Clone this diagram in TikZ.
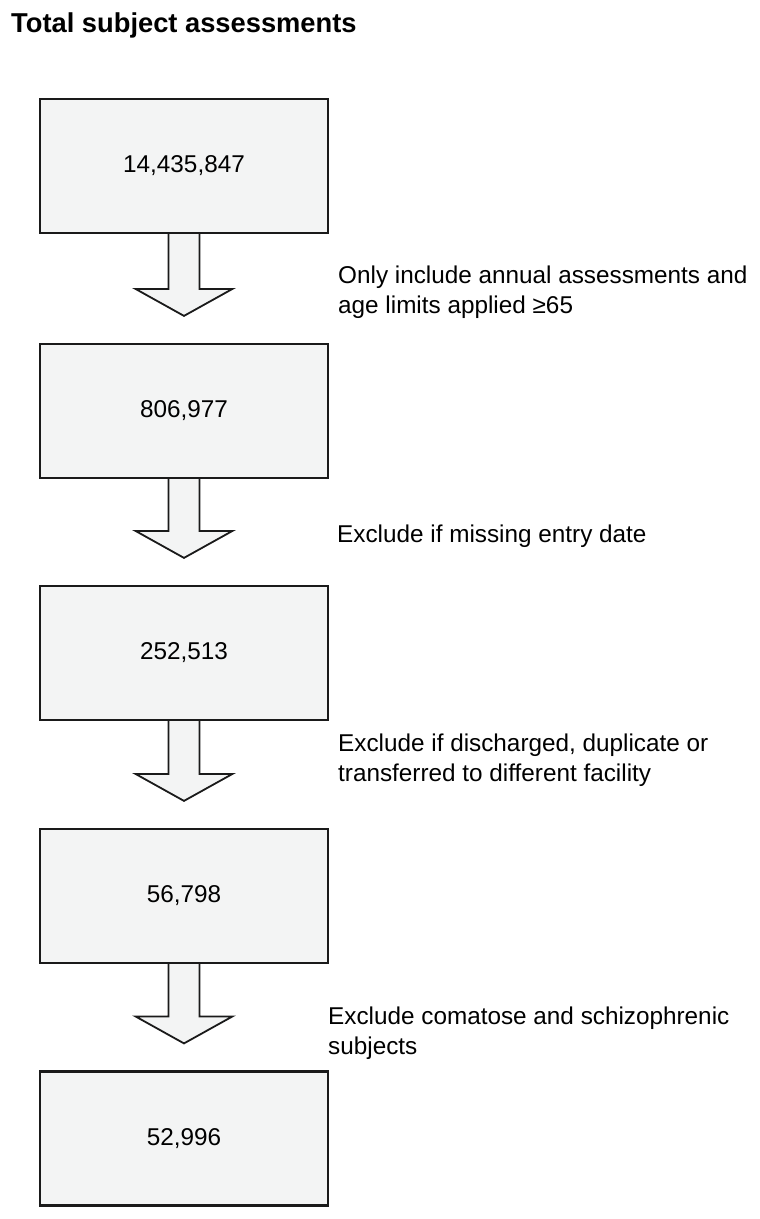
\documentclass[tikz,border=0pt]{standalone}
\usepackage{fontspec}
\setmainfont{Liberation Sans}
\usetikzlibrary{calc}
\definecolor{boxfill}{HTML}{F3F4F4}
\definecolor{edge}{HTML}{1A1A1A}
\tikzset{
  countbox/.style={draw=edge, line width=2.2pt, fill=boxfill, minimum width=288pt, minimum height=134pt, inner sep=0pt, font=\fontsize{24.3}{30}\selectfont},
  steplabel/.style={anchor=base west, align=left, inner sep=0pt, font=\fontsize{24.3}{30}\selectfont},
  blockarrow/.style={draw=edge, line width=1.8pt, fill=boxfill, line join=miter}
}
\newcommand{\blockarrow}[2]{%
  \coordinate (t) at (#1.south);
  \coordinate (p) at ($(#2.north)+(0,-27)$);
  \coordinate (b) at ($(p)+(0,-27)$);
  \draw[blockarrow] ($(t)+(-15.5,0)$) -- ($(b)+(-15.5,0)$) -- ($(b)+(-48.5,0)$) -- (p) -- ($(b)+(48.5,0)$) -- ($(b)+(15.5,0)$) -- ($(t)+(15.5,0)$);
}
\begin{document}
\begin{tikzpicture}[x=1pt,y=-1pt]
\useasboundingbox (0,0) rectangle (760,1219);
\node[anchor=base west, inner sep=0pt, font=\fontsize{27.3}{32}\selectfont\bfseries] (title) at (11,32) {Total subject assessments};
\node[countbox] (b1) at (184,166) {14,435,847};
\node[countbox] (b2) at (184,411) {806,977};
\node[countbox] (b3) at (184,653) {252,513};
\node[countbox] (b4) at (184,896) {56,798};
\node[countbox] (b5) at (184,1138.5) {52,996};
\blockarrow{b1}{b2}
\blockarrow{b2}{b3}
\blockarrow{b3}{b4}
\blockarrow{b4}{b5}
\node[steplabel] (l1) at (338,313) {Only include annual assessments and\\age limits applied ≥65};
\node[steplabel] (l2) at (337,542) {Exclude if missing entry date};
\node[steplabel] (l3) at (338,781) {Exclude if discharged, duplicate or\\transferred to different facility};
\node[steplabel] (l4) at (328,1054) {Exclude comatose and schizophrenic\\subjects};
\end{tikzpicture}
\end{document}
